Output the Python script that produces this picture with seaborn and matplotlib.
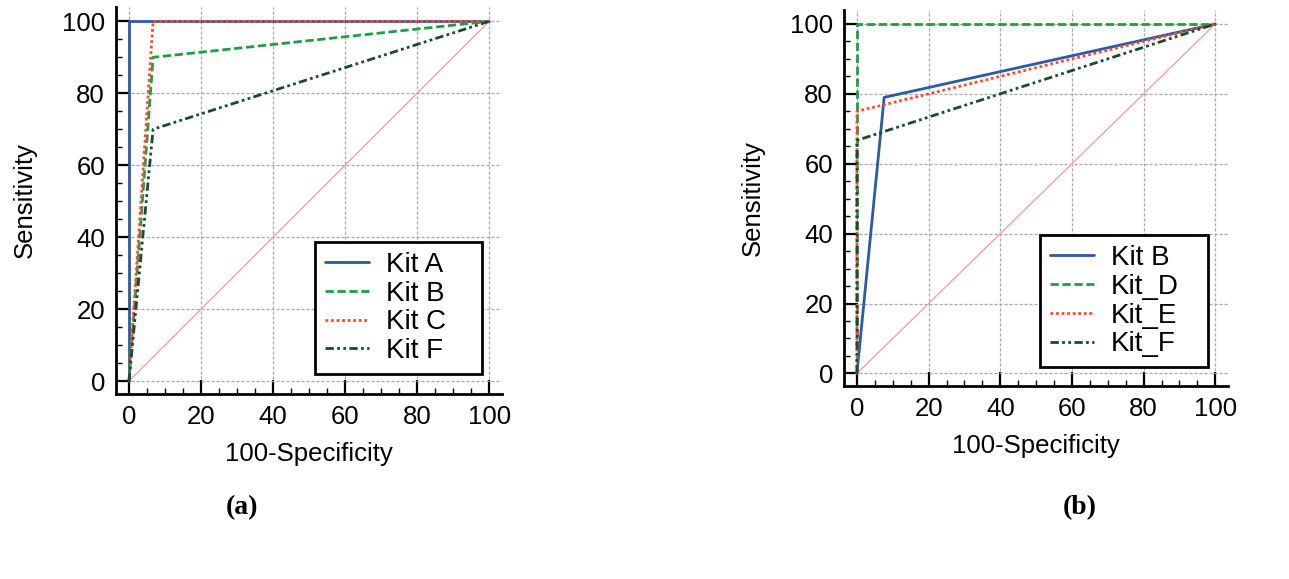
import matplotlib
matplotlib.use("Agg")
import matplotlib.pyplot as plt
import seaborn as sns
import pandas as pd
from matplotlib.ticker import MultipleLocator

# Panel (a) data
a_kits = ["Kit A", "Kit B", "Kit C", "Kit F"]
a_x = {"Kit A": [0, 0, 100], "Kit B": [0, 6.7, 100], "Kit C": [0, 6.7, 100], "Kit F": [0, 6.7, 100]}
a_y = {"Kit A": [0, 100, 100], "Kit B": [0, 90, 100], "Kit C": [0, 100, 100], "Kit F": [0, 70, 100]}

# Panel (b) data
b_kits = ["Kit B", "Kit_D", "Kit_E", "Kit_F"]
b_x = {"Kit B": [0, 7.6, 100], "Kit_D": [0, 0, 100], "Kit_E": [0, 0, 100], "Kit_F": [0, 0, 100]}
b_y = {"Kit B": [0, 79, 100], "Kit_D": [0, 100, 100], "Kit_E": [0, 75, 100], "Kit_F": [0, 66.7, 100]}

diag_x = [0, 100]
diag_y = [0, 100]
ticks = [0, 20, 40, 60, 80, 100]

styles = [
    dict(color="#2c5aa6", linestyle="-", lw=2.0),
    dict(color="#1f9e45", linestyle=(0, (3, 1.3)), lw=2.0),
    dict(color="#ff4a2a", linestyle=(0, (1, 1)), lw=2.0),
    dict(color="#1b4a2c", linestyle=(0, (3, 1.2, 1, 1.2, 1, 1.2)), lw=2.0),
]

sns.set_style("white")
plt.rcParams["font.family"] = ["Liberation Sans", "DejaVu Sans"]
plt.rcParams["text.color"] = "black"
plt.rcParams["axes.labelcolor"] = "black"
plt.rcParams["xtick.color"] = "black"
plt.rcParams["ytick.color"] = "black"

fig = plt.figure(figsize=(12.89, 5.79), dpi=100)
ax_a = fig.add_axes([0.090, 0.3195, 0.2995, 0.6685])
ax_b = fig.add_axes([0.6548, 0.3333, 0.298, 0.6494])


def draw(ax, kits, xs, ys, box):
    ax.grid(True, which="major", color="#a8a8a8", linestyle=(0, (2.5, 1.5)), lw=0.9)
    sns.lineplot(x=diag_x, y=diag_y, ax=ax, color="#f2a3a3", lw=1.0, legend=False)
    for k, st in zip(kits, styles):
        df = pd.DataFrame({"x": xs[k], "y": ys[k]})
        sns.lineplot(data=df, x="x", y="y", ax=ax, sort=False, estimator=None,
                     label=k, **st)
    ax.set_xlim(-3.6, 103.6)
    ax.set_ylim(-3.6, 104)
    ax.set_xticks(ticks)
    ax.set_yticks(ticks)
    ax.xaxis.set_minor_locator(MultipleLocator(5))
    ax.yaxis.set_minor_locator(MultipleLocator(5))
    ax.tick_params(which="major", direction="in", length=10, width=1.6, labelsize=18.5,
                   pad=8, color="black", labelcolor="black")
    ax.tick_params(which="minor", direction="in", length=4.5, width=1.0, color="black")
    ax.tick_params(axis="x", which="both", bottom=True)
    ax.tick_params(axis="y", which="both", left=True)
    for s in ["top", "right"]:
        ax.spines[s].set_visible(False)
    for s in ["left", "bottom"]:
        ax.spines[s].set_color("black")
        ax.spines[s].set_linewidth(2.0)
    ax.set_xlabel("100-Specificity", fontsize=18.5, labelpad=9)
    ax.set_ylabel("Sensitivity", fontsize=18.5, labelpad=18)
    leg = ax.legend(loc="lower left", fontsize=20, handlelength=1.6, frameon=True,
                    fancybox=False, edgecolor="black", framealpha=1,
                    borderpad=0.35, labelspacing=0.1, handletextpad=0.6,
                    borderaxespad=0, bbox_to_anchor=box, mode="expand")
    leg.get_frame().set_linewidth(2.0)


draw(ax_a, a_kits, a_x, a_y, (0.516, 0.052, 0.432, 0.3))
draw(ax_b, b_kits, b_x, b_y, (0.510, 0.050, 0.438, 0.3))

fig.text(0.188, 0.124, "(a)", fontsize=20, fontweight="bold", family="Liberation Serif",
         ha="center", va="center")
fig.text(0.838, 0.124, "(b)", fontsize=20, fontweight="bold", family="Liberation Serif",
         ha="center", va="center")

fig.savefig("out.png", dpi=100)
